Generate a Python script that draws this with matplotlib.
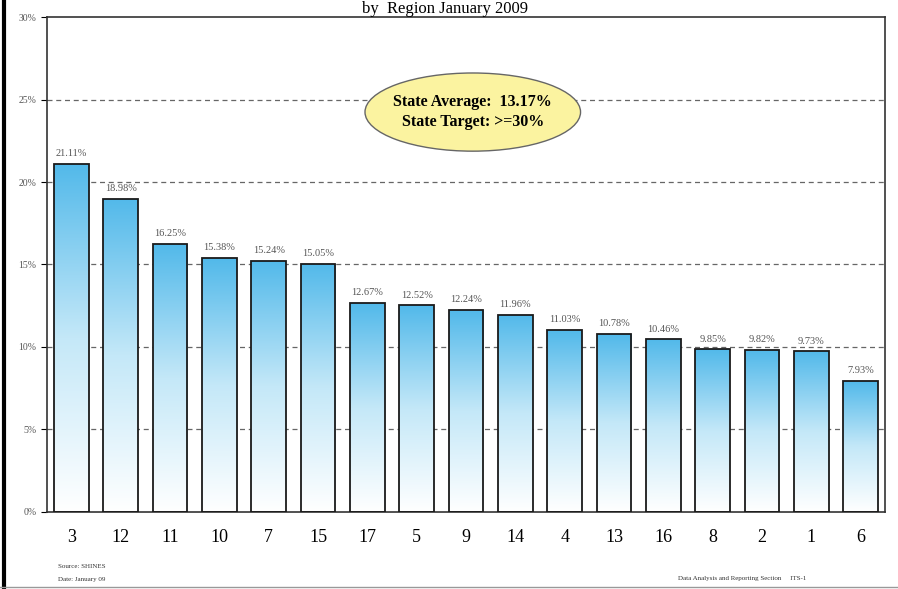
import matplotlib.pyplot as plt
import numpy as np
from matplotlib.patches import Ellipse
from matplotlib.colors import LinearSegmentedColormap

regions = ["3", "12", "11", "10", "7", "15", "17", "5", "9", "14", "4", "13", "16", "8", "2", "1", "6"]
values = [21.11, 18.98, 16.25, 15.38, 15.24, 15.05, 12.67, 12.52, 12.24, 11.96,
          11.03, 10.78, 10.46, 9.85, 9.82, 9.73, 7.93]
labels = ["21.11%", "18.98%", "16.25%", "15.38%", "15.24%", "15.05%", "12.67%", "12.52%",
          "12.24%", "11.96%", "11.03%", "10.78%", "10.46%", "9.85%", "9.82%", "9.73%", "7.93%"]
yticks = [0, 5, 10, 15, 20, 25, 30]

plt.rcParams['font.family'] = ['Liberation Serif', 'DejaVu Serif']

fig = plt.figure(figsize=(8.98, 5.89), dpi=100)
ax = fig.add_axes([0.052, 0.131, 0.934, 0.84])

x = np.arange(len(regions))
width = 0.7
bars = ax.bar(x, values, width, color="none", edgecolor="#1a1a1a", linewidth=1.3, zorder=3)

# gradient fill: blue at top, white at bottom
grad = np.linspace(0, 1, 256).reshape(-1, 1)
cmap = LinearSegmentedColormap.from_list("bw", ["#ffffff", "#c4e8f8", "#52b9ea"])
for b in bars:
    x0, w, h = b.get_x(), b.get_width(), b.get_height()
    im = ax.imshow(grad, extent=[x0, x0 + w, 0, h], origin="lower", cmap=cmap,
                   aspect="auto", zorder=2)
    im.set_clip_path(b)

for xi, v, lab in zip(x, values, labels):
    ax.text(xi, v + 0.35, lab, ha="center", va="bottom", fontsize=7.5, color="#555555")

ax.set_xlim(-0.5, len(regions) - 0.5)
ax.set_ylim(0, 30)
ax.set_yticks(yticks)
ax.set_yticklabels([f"{t}%" for t in yticks], fontsize=7, color="#555555")
ax.set_xticks(x)
ax.set_xticklabels(regions, fontsize=13)
ax.tick_params(axis="x", length=0, pad=12)
ax.tick_params(axis="y", length=4, direction="out")
for t in yticks[1:-1]:
    ax.axhline(t, color="#666666", linestyle=(0, (4, 3)), linewidth=0.9, zorder=1)
for s in ax.spines.values():
    s.set_linewidth(1.2)
    s.set_color("#333333")

ell = Ellipse((0.508, 0.808), 0.257, 0.158, transform=ax.transAxes,
              facecolor="#fbf3a0", edgecolor="#666666", linewidth=1.0, zorder=5)
ax.add_patch(ell)
ax.text(0.508, 0.808, "State Average:  13.17%\nState Target: >=30%", transform=ax.transAxes,
        ha="center", va="center", fontsize=11.5, fontweight="bold", zorder=6, linespacing=1.3)

fig.text(0.495, 0.999, "by  Region January 2009", ha="center", va="top", fontsize=12)
fig.text(0.065, 0.039, "Source: SHINES", fontsize=5, color="#333333", va="center")
fig.text(0.065, 0.016, "Date: January 09", fontsize=5, color="#333333", va="center")
fig.text(0.755, 0.018, "Data Analysis and Reporting Section     ITS-1", fontsize=5,
         color="#333333", va="center")

fig.add_artist(plt.Line2D([0.004, 0.004], [0, 1], color="black", linewidth=3))
fig.add_artist(plt.Line2D([0, 1], [0.003, 0.003], color="#999999", linewidth=1))

fig.savefig("out.png", dpi=100)
